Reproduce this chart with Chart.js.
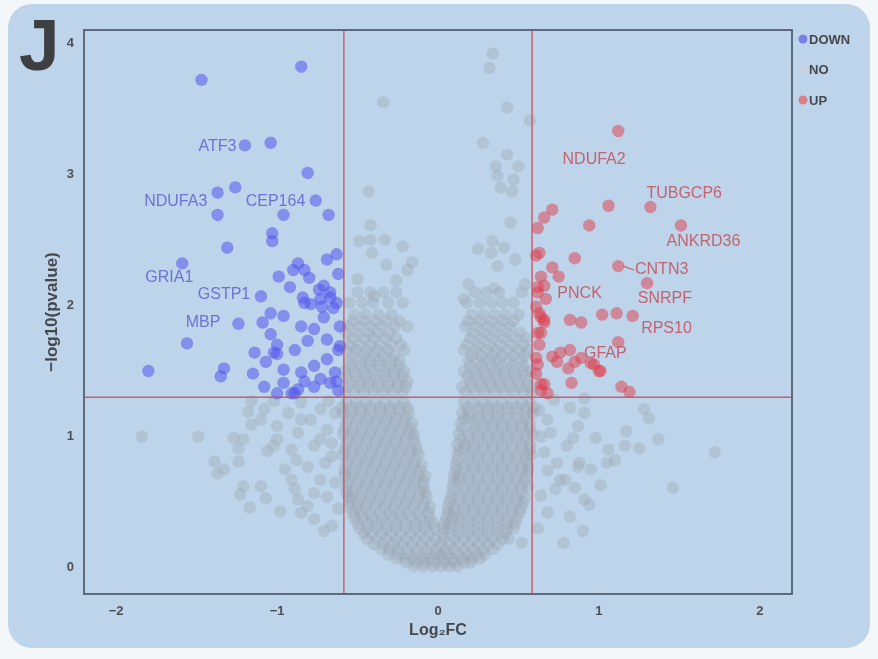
<!DOCTYPE html>
<html>
<head>
<meta charset="utf-8">
<script src="https://cdn.jsdelivr.net/npm/chart.js@4.4.1/dist/chart.umd.min.js"></script>
<style>
  html, body { margin: 0; padding: 0; background: #f4f7fa; }
  #wrap { position: relative; width: 878px; height: 659px; overflow: hidden; }
  #panel { position: absolute; left: 8px; top: 4px; width: 862px; height: 644px;
           background: #bed4ea; border-radius: 24px; }
  canvas { position: absolute; left: 0; top: 0; }
</style>
</head>
<body>
<div id="wrap">
  <div id="panel"></div>
  <canvas id="volcano" width="878" height="659"></canvas>
</div>
<script>
// axis ticks and cut-offs
const xTicks = [-2, -1, 0, 1, 2];
const yTicks = [0, 1, 2, 3, 4];
const fcCut = 0.585;   // |log2FC| threshold
const pCut = 1.3;      // -log10(0.05)
const panelTag = 'J';

// significant genes, [log2FC, -log10(p)]
const downPoints = [
  [-1.47,3.72],[-0.85,3.82],[-1.20,3.22],[-1.04,3.24],[-0.81,3.01],[-1.37,2.86],[-1.26,2.90],
  [-0.76,2.80],[-1.37,2.69],[-0.96,2.69],[-0.68,2.69],[-1.03,2.55],[-1.03,2.49],[-1.31,2.44],
  [-1.59,2.32],[-0.69,2.35],[-0.63,2.39],[-0.99,2.22],[-0.90,2.27],[-0.87,2.32],[-0.83,2.27],
  [-0.80,2.21],[-0.92,2.14],[-0.71,2.15],[-0.62,2.24],[-0.74,2.12],[-1.10,2.07],[-0.84,2.06],
  [-0.79,2.01],[-0.73,2.05],[-0.67,2.10],[-0.63,2.02],[-0.67,2.06],[-0.72,1.99],[-0.83,2.02],
  [-0.65,1.98],[-1.24,1.86],[-1.04,1.94],[-0.96,1.92],[-1.09,1.87],[-0.85,1.84],[-0.77,1.82],
  [-0.71,1.91],[-0.61,1.84],[-1.56,1.71],[-1.04,1.78],[-1.14,1.64],[-1.00,1.70],[-0.89,1.66],
  [-0.81,1.73],[-0.69,1.74],[-0.62,1.66],[-0.61,1.69],[-1.07,1.57],[-1.02,1.64],[-1.00,1.63],
  [-0.96,1.51],[-0.85,1.49],[-0.77,1.54],[-0.69,1.59],[-0.64,1.49],[-1.80,1.50],[-1.33,1.52],
  [-1.35,1.46],[-1.15,1.48],[-1.08,1.38],[-0.96,1.41],[-0.87,1.36],[-0.77,1.38],[-0.67,1.41],
  [-0.62,1.35],[-0.89,1.33],[-1.00,1.33],[-0.63,1.42],[-0.83,1.42],[-0.73,1.44],[-0.91,1.33]
];
const upPoints = [
  [1.12,3.33],[1.06,2.76],[1.32,2.75],[1.51,2.61],[0.94,2.61],[0.71,2.73],[0.66,2.67],
  [0.62,2.59],[0.63,2.40],[0.61,2.38],[0.85,2.36],[1.12,2.30],[1.30,2.17],[0.71,2.29],
  [0.75,2.22],[0.64,2.22],[0.62,2.14],[0.67,2.05],[0.66,2.15],[0.63,1.94],[0.66,1.89],
  [0.64,1.79],[0.82,1.89],[0.89,1.87],[1.02,1.93],[1.11,1.94],[1.21,1.92],[1.12,1.72],
  [0.61,1.60],[0.71,1.61],[0.76,1.64],[0.82,1.66],[0.85,1.57],[0.81,1.52],[0.95,1.56],
  [1.00,1.50],[0.64,1.40],[0.83,1.41],[1.14,1.38],[1.19,1.34],[0.68,1.33],[0.64,1.91],
  [0.66,1.87],[0.62,1.79],[0.74,1.57],[0.89,1.60],[0.97,1.55],[1.01,1.50],[0.66,1.40],
  [0.64,1.35],[0.61,1.99],[0.62,2.10],[0.63,1.70],[0.61,1.48],[0.62,1.55]
];

// non-significant genes: dense V-shaped cloud, one row per -log10(p) level: [y, x, x, ...]
const noCoreLeft = [
  [1.26, -0.57,-0.51,-0.45,-0.39,-0.33,-0.27,-0.21],
  [1.22, -0.60,-0.54,-0.48,-0.42,-0.36,-0.30,-0.24,-0.19],
  [1.18, -0.59,-0.54,-0.48,-0.42,-0.36,-0.30,-0.24,-0.18],
  [1.14, -0.56,-0.50,-0.44,-0.38,-0.32,-0.26,-0.20],
  [1.10, -0.57,-0.51,-0.45,-0.39,-0.33,-0.27,-0.21,-0.16],
  [1.06, -0.58,-0.53,-0.47,-0.41,-0.35,-0.29,-0.23,-0.17],
  [1.02, -0.59,-0.54,-0.48,-0.42,-0.36,-0.30,-0.24,-0.18,-0.15],
  [0.98, -0.56,-0.50,-0.44,-0.38,-0.32,-0.26,-0.20,-0.15],
  [0.94, -0.57,-0.51,-0.45,-0.39,-0.33,-0.27,-0.21,-0.14],
  [0.90, -0.58,-0.53,-0.47,-0.41,-0.35,-0.29,-0.23,-0.17,-0.13],
  [0.86, -0.59,-0.54,-0.48,-0.42,-0.36,-0.30,-0.24,-0.18,-0.12],
  [0.82, -0.56,-0.50,-0.44,-0.38,-0.32,-0.26,-0.20,-0.14],
  [0.78, -0.57,-0.51,-0.45,-0.39,-0.33,-0.27,-0.21,-0.15,-0.10],
  [0.74, -0.58,-0.53,-0.47,-0.41,-0.35,-0.29,-0.23,-0.17,-0.11],
  [0.70, -0.58,-0.54,-0.48,-0.42,-0.36,-0.30,-0.24,-0.18,-0.12,-0.08],
  [0.66, -0.56,-0.50,-0.44,-0.38,-0.32,-0.26,-0.20,-0.14,-0.09],
  [0.62, -0.57,-0.51,-0.45,-0.39,-0.33,-0.27,-0.21,-0.15,-0.09],
  [0.58, -0.57,-0.53,-0.47,-0.41,-0.35,-0.29,-0.23,-0.17,-0.11,-0.08],
  [0.54, -0.56,-0.54,-0.48,-0.42,-0.36,-0.30,-0.24,-0.18,-0.12,-0.07],
  [0.50, -0.55,-0.50,-0.44,-0.38,-0.32,-0.26,-0.20,-0.14,-0.08],
  [0.46, -0.55,-0.50,-0.45,-0.39,-0.33,-0.27,-0.21,-0.15,-0.09,-0.05],
  [0.42, -0.53,-0.48,-0.42,-0.36,-0.30,-0.24,-0.18,-0.12,-0.06],
  [0.38, -0.52,-0.47,-0.41,-0.35,-0.29,-0.23,-0.17,-0.11,-0.05],
  [0.34, -0.50,-0.44,-0.38,-0.32,-0.26,-0.20,-0.14,-0.08,-0.03],
  [0.30, -0.49,-0.44,-0.38,-0.32,-0.26,-0.20,-0.14,-0.08,-0.02],
  [0.26, -0.46,-0.41,-0.35,-0.29,-0.23,-0.17,-0.11,-0.05],
  [0.22, -0.44,-0.38,-0.32,-0.26,-0.20,-0.14,-0.08,-0.02],
  [0.18, -0.40,-0.34,-0.28,-0.22,-0.16,-0.10,-0.04],
  [0.14, -0.35,-0.30,-0.25,-0.19,-0.13,-0.07,-0.01],
  [0.10, -0.31,-0.25,-0.19,-0.13,-0.07,-0.01],
  [0.07, -0.26,-0.21,-0.15,-0.09,-0.04],
  [0.04, -0.20,-0.14,-0.08,-0.02],
  [0.01, -0.15,-0.09,-0.03,0.02]
];
const noCoreRight = [
  [1.26, 0.16,0.22,0.28,0.34,0.40,0.46,0.52,0.57],
  [1.22, 0.18,0.25,0.31,0.37,0.43,0.49,0.55,0.60],
  [1.18, 0.15,0.19,0.25,0.31,0.37,0.43,0.49,0.55,0.59],
  [1.14, 0.16,0.19,0.25,0.31,0.37,0.43,0.49,0.55],
  [1.10, 0.14,0.22,0.28,0.34,0.40,0.46,0.52,0.57],
  [1.06, 0.15,0.22,0.28,0.34,0.40,0.46,0.52,0.57],
  [1.02, 0.13,0.19,0.25,0.31,0.37,0.43,0.49,0.55,0.59],
  [0.98, 0.14,0.19,0.25,0.31,0.37,0.43,0.49,0.55],
  [0.94, 0.12,0.17,0.22,0.28,0.34,0.40,0.46,0.52,0.57],
  [0.90, 0.13,0.16,0.22,0.28,0.34,0.40,0.46,0.52,0.57],
  [0.86, 0.12,0.19,0.25,0.31,0.37,0.43,0.49,0.55,0.58],
  [0.82, 0.12,0.19,0.25,0.31,0.37,0.43,0.49,0.55],
  [0.78, 0.11,0.16,0.22,0.28,0.34,0.40,0.46,0.52,0.56],
  [0.74, 0.11,0.16,0.22,0.28,0.34,0.40,0.46,0.52,0.56],
  [0.70, 0.10,0.13,0.19,0.25,0.31,0.37,0.43,0.49,0.55],
  [0.66, 0.10,0.13,0.19,0.25,0.31,0.37,0.43,0.49,0.54],
  [0.62, 0.09,0.16,0.22,0.28,0.34,0.40,0.46,0.52,0.56],
  [0.58, 0.09,0.16,0.22,0.28,0.34,0.40,0.46,0.52],
  [0.54, 0.08,0.13,0.19,0.25,0.31,0.37,0.43,0.49,0.54],
  [0.50, 0.07,0.13,0.19,0.25,0.31,0.37,0.43,0.49,0.53],
  [0.46, 0.06,0.10,0.16,0.22,0.28,0.34,0.40,0.46,0.52],
  [0.42, 0.06,0.10,0.16,0.22,0.28,0.34,0.40,0.46,0.51],
  [0.38, 0.05,0.09,0.13,0.19,0.25,0.31,0.37,0.43,0.49],
  [0.34, 0.04,0.07,0.13,0.19,0.25,0.31,0.37,0.43,0.48],
  [0.30, 0.03,0.07,0.13,0.19,0.25,0.31,0.37,0.43,0.47],
  [0.26, 0.03,0.08,0.13,0.19,0.25,0.31,0.37,0.42],
  [0.22, 0.03,0.10,0.16,0.22,0.28,0.34,0.40,0.44],
  [0.18, 0.02,0.07,0.13,0.19,0.25,0.31,0.37],
  [0.14, 0.05,0.10,0.16,0.22,0.28,0.34],
  [0.10, 0.02,0.06,0.12,0.18,0.24,0.29],
  [0.07, 0.03,0.09,0.15,0.21,0.26],
  [0.04, 0.04,0.10,0.16,0.20],
  [0.01, 0.07,0.12]
];
const noUpperLeft = [
  [1.34, -0.58,-0.52,-0.46,-0.40,-0.34,-0.28,-0.22],
  [1.38, -0.56,-0.49,-0.43,-0.37,-0.31,-0.25,-0.20],
  [1.42, -0.55,-0.49,-0.43,-0.37,-0.31,-0.25,-0.19],
  [1.46, -0.57,-0.51,-0.45,-0.39,-0.33,-0.27,-0.22],
  [1.50, -0.58,-0.52,-0.46,-0.40,-0.33,-0.27,-0.21],
  [1.54, -0.54,-0.48,-0.42,-0.36,-0.30,-0.24],
  [1.58, -0.55,-0.48,-0.42,-0.36,-0.29,-0.24],
  [1.62, -0.53,-0.46,-0.40,-0.34,-0.27],
  [1.66, -0.57,-0.51,-0.44,-0.38,-0.31,-0.21],
  [1.70, -0.55,-0.49,-0.42,-0.36,-0.29,-0.23],
  [1.75, -0.53,-0.46,-0.40,-0.33,-0.26],
  [1.79, -0.57,-0.50,-0.43,-0.37,-0.30],
  [1.84, -0.56,-0.49,-0.42,-0.35,-0.27,-0.19],
  [1.88, -0.53,-0.46,-0.39,-0.32,-0.24],
  [1.93, -0.52,-0.45,-0.37,-0.29],
  [2.02, -0.55,-0.47,-0.40,-0.31,-0.22],
  [2.10, -0.50,-0.42,-0.34,-0.26]
];
const noUpperRight = [
  [1.34, 0.17,0.23,0.29,0.35,0.41,0.47,0.53,0.58],
  [1.38, 0.15,0.21,0.27,0.33,0.39,0.45,0.51,0.57],
  [1.42, 0.20,0.26,0.32,0.38,0.44,0.50,0.56],
  [1.46, 0.18,0.24,0.30,0.36,0.42,0.48,0.54],
  [1.50, 0.16,0.23,0.29,0.35,0.41,0.47,0.53,0.58],
  [1.54, 0.20,0.27,0.33,0.39,0.46,0.53],
  [1.58, 0.19,0.26,0.32,0.38,0.45,0.52],
  [1.62, 0.21,0.27,0.34,0.40,0.47,0.54],
  [1.66, 0.16,0.23,0.30,0.36,0.43,0.50,0.56],
  [1.70, 0.18,0.25,0.32,0.39,0.46,0.53],
  [1.75, 0.20,0.27,0.34,0.41,0.48,0.55],
  [1.79, 0.22,0.29,0.36,0.43,0.51],
  [1.84, 0.17,0.24,0.31,0.38,0.45],
  [1.88, 0.19,0.26,0.33,0.40,0.47],
  [1.93, 0.21,0.28,0.35,0.42,0.50],
  [2.02, 0.18,0.26,0.33,0.40,0.47],
  [2.10, 0.23,0.30,0.38,0.52]
];
// loose non-significant genes, [log2FC, -log10(p)]
const noScatter = [
  [-0.34,3.55],[-0.43,2.87],[-0.42,2.61],[-0.49,2.49],[-0.42,2.50],[-0.33,2.50],[-0.22,2.45],
  [-0.41,2.40],[-0.32,2.31],[-0.19,2.27],[-0.16,2.33],[-0.50,2.20],[-0.26,2.19],[-0.40,2.07],
  [0.34,3.92],[0.32,3.81],[0.43,3.51],[0.57,3.41],[0.28,3.24],[0.43,3.15],[0.36,3.06],
  [0.50,3.06],[0.37,2.99],[0.47,2.96],[0.39,2.90],[0.46,2.87],[0.45,2.63],[0.25,2.43],
  [0.34,2.49],[0.41,2.44],[0.48,2.35],[0.33,2.40],[0.37,2.30],[0.19,2.16],[0.35,2.13],
  [0.54,2.16],[0.16,2.05],
  [-1.84,1.00],[-1.49,1.00],[-1.27,0.99],[-1.21,0.98],[-1.24,0.91],[-1.39,0.81],[-1.33,0.75],
  [-1.37,0.72],[-1.24,0.81],[-1.21,0.62],[-1.23,0.56],[-1.10,0.62],[-1.07,0.53],[-1.17,0.46],
  [-0.98,0.43],[-0.89,0.60],[-0.91,0.67],[-0.87,0.52],[-0.85,0.42],[-0.77,0.37],[-0.71,0.28],
  [-0.66,0.32],[-1.18,1.19],[-1.10,1.13],[-1.16,1.09],[-1.00,0.98],[-1.02,0.93],[-1.06,0.89],
  [-0.91,0.90],[-0.87,1.03],[-0.88,0.82],[-0.81,0.77],[-0.77,0.93],[-0.79,1.13],[-0.73,1.21],
  [-0.69,1.05],[-0.66,0.85],[-0.73,0.67],[-0.69,0.54],[-0.77,0.57],[-0.81,0.47],[-1.16,1.27],
  [-1.02,1.27],[-0.85,1.26],[-1.08,1.21],[-0.93,1.18],[-1.00,1.08],[-0.85,1.13],[-0.73,0.98],
  [-0.66,0.95],[-0.64,1.18],[-0.70,0.80],[-0.64,0.65],[-0.62,0.45],[-0.95,0.75],[-0.68,1.27],
  [1.72,0.88],[1.46,0.61],[1.37,0.98],[1.25,0.91],[1.17,1.04],[1.16,0.93],[1.06,0.90],
  [1.10,0.82],[1.05,0.80],[0.98,0.99],[1.01,0.63],[0.90,0.28],[0.78,0.19],[0.94,0.48],
  [0.91,0.52],[0.82,0.39],[0.87,0.77],[0.88,0.80],[0.91,1.18],[0.82,1.22],[0.87,1.08],
  [0.84,0.99],[1.28,1.21],[1.31,1.14],[0.74,0.80],[0.76,0.67],[0.73,0.60],[0.68,0.42],
  [0.52,0.19],[0.70,1.03],[0.68,1.13],[0.72,1.28],[0.91,1.29],[0.66,0.88],[0.68,0.74],
  [0.80,0.93],[0.79,0.67],[0.85,0.61],[0.95,0.75],[0.63,1.20],[0.64,0.55],[0.62,0.30],[0.64,1.00]
];

// gene labels, placed in data units
const labelText = ['ATF3','NDUFA3','CEP164','GRIA1','GSTP1','MBP',
                   'NDUFA2','TUBGCP6','ANKRD36','CNTN3','SNRPF','PNCK','RPS10','GFAP'];
const labelX = [-1.37,-1.63,-1.01,-1.67,-1.33,-1.46, 0.97,1.53,1.65,1.39,1.41,0.88,1.42,1.04];
const labelY = [3.21,2.79,2.79,2.21,2.08,1.87, 3.11,2.85,2.49,2.27,2.05,2.09,1.82,1.63];
const linkFrom = [1.12, 2.30];   // CNTN3 point, joined to its label

function pairs(list) {
  return list.map(p => ({ x: p[0], y: p[1] }));
}
function rows(table) {
  const out = [];
  table.forEach(r => {
    for (let i = 1; i < r.length; i++) out.push({ x: r[i], y: r[0] });
  });
  return out;
}

const noPoints = rows(noCoreLeft).concat(rows(noCoreRight), rows(noUpperLeft),
                                         rows(noUpperRight), pairs(noScatter));

const legendColors = { DOWN: '#7a7fe6', NO: '#c8d2dc', UP: '#d97f88' };

const decor = {
  id: 'decor',
  afterDatasetsDraw(chart) {
    const { ctx, chartArea: a, scales: { x, y } } = chart;
    ctx.save();

    // threshold lines
    ctx.strokeStyle = 'rgba(196,78,92,0.85)';
    ctx.lineWidth = 1.5;
    ctx.beginPath();
    [-fcCut, fcCut].forEach(v => {
      const px = x.getPixelForValue(v);
      ctx.moveTo(px, a.top); ctx.lineTo(px, a.bottom);
    });
    const py = y.getPixelForValue(pCut);
    ctx.moveTo(a.left, py); ctx.lineTo(a.right, py);
    ctx.stroke();

    // panel frame
    ctx.strokeStyle = '#5c6a7c';
    ctx.lineWidth = 2;
    ctx.strokeRect(a.left, a.top, a.right - a.left, a.bottom - a.top);

    // panel letter
    ctx.fillStyle = '#3d3f42';
    ctx.font = 'bold 73px "Liberation Sans", Arial, sans-serif';
    ctx.textAlign = 'left';
    ctx.textBaseline = 'alphabetic';
    ctx.fillText(panelTag, 19, 70);

    // gene labels
    ctx.font = '16px "Liberation Sans", Arial, sans-serif';
    ctx.textAlign = 'center';
    ctx.textBaseline = 'middle';
    labelText.forEach((t, i) => {
      ctx.fillStyle = labelX[i] < 0 ? '#6b73d8' : '#c4636f';
      ctx.fillText(t, x.getPixelForValue(labelX[i]), y.getPixelForValue(labelY[i]));
    });
    const li = labelText.indexOf('CNTN3');
    const tw = ctx.measureText('CNTN3').width;
    ctx.strokeStyle = '#c4636f';
    ctx.lineWidth = 1.2;
    ctx.beginPath();
    ctx.moveTo(x.getPixelForValue(linkFrom[0]) + 5, y.getPixelForValue(linkFrom[1]));
    ctx.lineTo(x.getPixelForValue(labelX[li]) - tw / 2 - 1, y.getPixelForValue(labelY[li]));
    ctx.stroke();

    // legend
    ctx.font = 'bold 13px "Liberation Sans", Arial, sans-serif';
    ctx.textAlign = 'left';
    chart.data.datasets.forEach((ds, i) => {
      const cy = 39 + i * 30.5;
      ctx.fillStyle = legendColors[ds.label];
      ctx.beginPath();
      ctx.arc(803, cy, 4.5, 0, Math.PI * 2);
      ctx.fill();
      ctx.fillStyle = '#45484d';
      ctx.fillText(ds.label, 809, cy + 1);
    });
    ctx.restore();
  }
};

new Chart(document.getElementById('volcano'), {
  type: 'scatter',
  data: {
    datasets: [
      { label: 'DOWN', data: pairs(downPoints), backgroundColor: 'rgba(82,86,236,0.55)', order: 1 },
      { label: 'NO', data: noPoints, backgroundColor: 'rgba(150,158,168,0.3)', order: 3 },
      { label: 'UP', data: pairs(upPoints), backgroundColor: 'rgba(224,60,74,0.5)', order: 2 }
    ]
  },
  options: {
    responsive: false,
    animation: false,
    events: [],
    layout: { padding: { left: 0, top: 30, right: 86, bottom: 0 } },
    elements: { point: { radius: 6.2, borderWidth: 0, hoverRadius: 6.2 } },
    plugins: { legend: { display: false }, tooltip: { enabled: false } },
    scales: {
      x: {
        type: 'linear', min: -2.2, max: 2.2,
        afterBuildTicks: s => { s.ticks = xTicks.map(v => ({ value: v })); },
        afterFit: s => { s.height = 65; },
        grid: { display: false, drawTicks: false },
        border: { display: false },
        ticks: { padding: 10, color: '#4d4f53', font: { size: 13, weight: 'bold' },
                 callback: v => (v < 0 ? '\u2212' + Math.abs(v) : String(v)) },
        title: { display: true, text: 'Log\u2082FC', color: '#45484d',
                 font: { size: 16, weight: 'bold' }, padding: { top: 0, bottom: 19 } }
      },
      y: {
        type: 'linear', min: -0.2, max: 4.1,
        afterBuildTicks: s => { s.ticks = yTicks.map(v => ({ value: v })); },
        afterFit: s => { s.width = 84; },
        grid: { display: false, drawTicks: false },
        border: { display: false },
        ticks: { padding: 10, color: '#4d4f53', font: { size: 13, weight: 'bold' } },
        title: { display: true, text: '\u2212log10(pvalue)', color: '#45484d',
                 font: { size: 17, weight: 'bold' }, padding: { top: 42, bottom: 0 } }
      }
    }
  },
  plugins: [decor]
});
</script>
</body>
</html>
